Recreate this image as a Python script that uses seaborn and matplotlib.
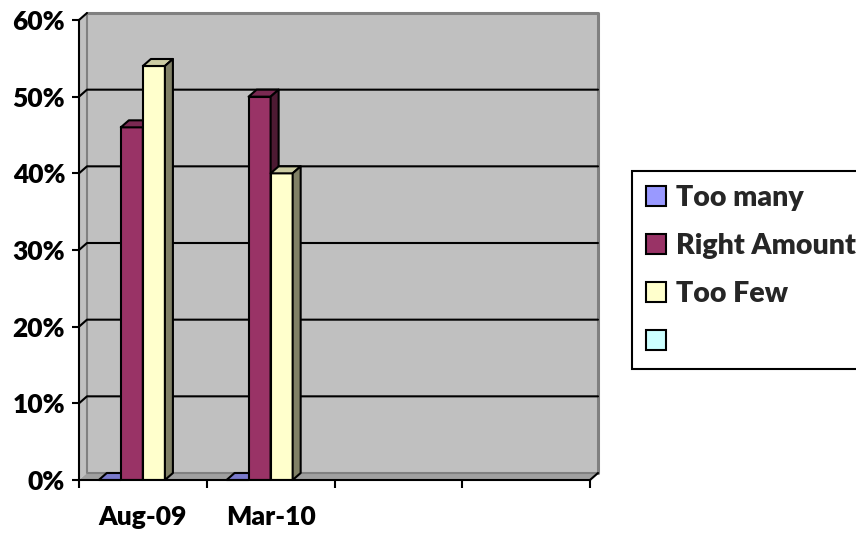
import numpy as np
import pandas as pd
import matplotlib
matplotlib.use("Agg")
import matplotlib.pyplot as plt
import matplotlib.colors as mcolors
from matplotlib.patches import Polygon, Patch
from matplotlib.lines import Line2D
import seaborn as sns

# Survey results by period (shares of respondents)
categories = ["Aug-09", "Mar-10", "", " "]
series = ["Too many", "Right Amount", "Too Few", ""]
too_many = [0.00, 0.00]
right_amount = [0.46, 0.50]
too_few = [0.54, 0.40]
series_colors = ["#9999FF", "#993366", "#FFFFCC", "#CCFFFF"]
y_ticks = [0.0, 0.1, 0.2, 0.3, 0.4, 0.5, 0.6]

rows = []
for name, vals in zip(series[:3], [too_many, right_amount, too_few]):
    for cat, v in zip(categories, vals):
        rows.append({"period": cat, "answer": name, "share": v})
df = pd.DataFrame(rows)

sns.set_theme(style="white")
plt.rcParams["font.family"] = ["Lato", "DejaVu Sans"]
plt.rcParams["font.weight"] = "heavy"
WEIGHT = "heavy"

fig = plt.figure(figsize=(8.56, 5.35), dpi=100)
ax = fig.add_axes([79 / 856, 1 - 480 / 535, 511 / 856, 460 / 535])

sns.barplot(data=df, x="period", y="share", hue="answer",
            order=categories, hue_order=series,
            palette=dict(zip(series, series_colors)),
            width=0.69, gap=0, saturation=1, legend=False,
            edgecolor="black", linewidth=1.5, ax=ax)

ax.set_xlim(-0.5, len(categories) - 0.5)
ax.set_ylim(0, 0.6)
ax.set_xlabel("")
ax.set_ylabel("")

# depth offset of the 3-D box, in data units
dx = 8 * (len(categories)) / 511
dy = 7 * 0.6 / 460
x_lo, x_hi = -0.5, len(categories) - 0.5
y_hi = 0.6

ax.set_facecolor("none")
wall = Polygon([(x_lo + dx, dy), (x_hi + dx, dy), (x_hi + dx, y_hi + dy), (x_lo + dx, y_hi + dy)],
               closed=True, facecolor="#C0C0C0", edgecolor="none", zorder=0.5, clip_on=False)
side_wall = Polygon([(x_lo, 0), (x_lo + dx, dy), (x_lo + dx, y_hi + dy), (x_lo, y_hi)],
                    closed=True, facecolor="#C0C0C0", edgecolor="none", zorder=0.5, clip_on=False)
floor = Polygon([(x_lo, 0), (x_hi, 0), (x_hi + dx, dy), (x_lo + dx, dy)],
                closed=True, facecolor="#A0A0A0", edgecolor="none", zorder=0.55, clip_on=False)
for p in (wall, side_wall, floor):
    ax.add_patch(p)

# wall outline
ax.add_line(Line2D([x_lo + dx, x_hi + dx, x_hi + dx], [y_hi + dy, y_hi + dy, dy],
                   color="#808080", lw=2.2, zorder=0.6, clip_on=False))
ax.add_line(Line2D([x_lo + dx, x_lo + dx, x_hi + dx], [y_hi + dy, dy, dy],
                   color="#808080", lw=1.5, zorder=0.6, clip_on=False))

# gridlines across side wall and back wall
for yv in y_ticks[1:-1]:
    ax.add_line(Line2D([x_lo, x_lo + dx, x_hi + dx], [yv, yv + dy, yv + dy],
                       color="black", lw=1.5, zorder=0.8, clip_on=False))

# 3-D corners of the axis frame
ax.add_line(Line2D([x_lo, x_lo + dx], [y_hi, y_hi + dy], color="black", lw=1.5,
                   zorder=3, clip_on=False))
ax.add_line(Line2D([x_hi, x_hi + dx], [0, dy], color="black", lw=1.5,
                   zorder=3, clip_on=False))

# extrude every bar into a box
bars = [p for p in ax.patches if isinstance(p, matplotlib.patches.Rectangle)
        and p not in (wall, side_wall, floor) and not np.isnan(p.get_height())]
bars = [b for b in bars if b.get_width() > 0]
bars.sort(key=lambda b: b.get_x())


def shade(color, f):
    r, g, b, _ = mcolors.to_rgba(color)
    return (r * f, g * f, b * f)


for i, bar in enumerate(bars):
    z = 2 + 0.02 * i
    bar.set_zorder(z)
    x0, w, h = bar.get_x(), bar.get_width(), bar.get_height()
    fc = bar.get_facecolor()
    top = Polygon([(x0, h), (x0 + w, h), (x0 + w + dx, h + dy), (x0 + dx, h + dy)],
                  closed=True, facecolor=shade(fc, 0.8), edgecolor="black",
                  lw=1.5, joinstyle="round", zorder=z + 0.01, clip_on=False)
    ax.add_patch(top)
    if h > 0:
        side = Polygon([(x0 + w, 0), (x0 + w + dx, dy), (x0 + w + dx, h + dy), (x0 + w, h)],
                       closed=True, facecolor=shade(fc, 0.5), edgecolor="black",
                       lw=1.5, joinstyle="round", zorder=z + 0.01, clip_on=False)
        ax.add_patch(side)

# axes, ticks and labels
for s in ("top", "right"):
    ax.spines[s].set_visible(False)
for s in ("left", "bottom"):
    ax.spines[s].set_color("black")
    ax.spines[s].set_linewidth(1.5)
    ax.spines[s].set_zorder(3)

ax.set_yticks(y_ticks)
ax.set_yticklabels([f"{v:.0%}" for v in y_ticks])
ax.tick_params(axis="y", direction="out", length=5, width=1.5, color="black",
               pad=5, labelsize=19, left=True)
ax.set_xticks(range(len(categories)))
ax.set_xticklabels(categories)
ax.set_xticks(np.arange(x_lo, x_hi + 0.01, 1.0), minor=True)
ax.tick_params(axis="x", which="major", length=0, pad=18, labelsize=19)
ax.tick_params(axis="x", which="minor", direction="out", length=5.5, width=1.5,
               color="black", bottom=True)
for lab in ax.get_xticklabels() + ax.get_yticklabels():
    lab.set_fontweight(WEIGHT)
    lab.set_color("black")

handles = [Patch(facecolor=c, edgecolor="black", linewidth=1.5) for c in series_colors]
leg = fig.legend(handles, series, loc="upper left",
                 bbox_to_anchor=(632 / 856, 1 - 171 / 535), bbox_transform=fig.transFigure,
                 frameon=True, fancybox=False, framealpha=1, edgecolor="black",
                 handlelength=0.7, handleheight=0.7, handletextpad=0.35,
                 labelspacing=0.77, borderpad=0.5, borderaxespad=0,
                 prop={"weight": WEIGHT, "size": 20.5})
leg.get_frame().set_linewidth(1.5)

fig.savefig("out.png", dpi=100)
